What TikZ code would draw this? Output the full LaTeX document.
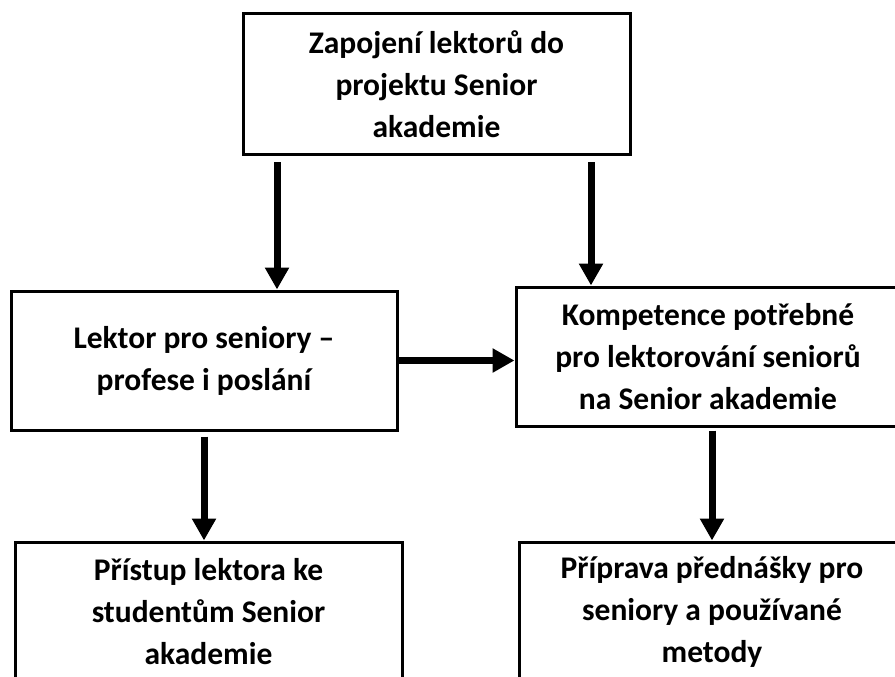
\documentclass[tikz,border=0pt]{standalone}
\usepackage{fontspec}
\setmainfont{Carlito}
\usepackage{tikz}
\usetikzlibrary{arrows.meta}

\begin{document}
\begin{tikzpicture}[x=1pt, y=-1pt,
    box/.style={draw, line width=3pt, align=center, inner sep=0pt,
      font=\fontsize{31.5}{42}\selectfont\bfseries},
    flow/.style={line width=7pt, -{Triangle[width=23pt,length=22pt]}}]
  \useasboundingbox (0,0) rectangle (895,677);
  \clip (0,0) rectangle (895,677);
  % boxes
  \node[box, minimum width=387, minimum height=140] (zapojeni) at (436.5,84)
    {Zapojení lektorů do\\projektu Senior\\akademie};
  \node[box, minimum width=386, minimum height=139] (lektor) at (204,360.5)
    {Lektor pro seniory --\\profese i poslání};
  \node[box, minimum width=384, minimum height=139] (kompetence) at (708,356.5)
    {Kompetence potřebné\\pro lektorování seniorů\\na Senior akademie};
  \node[box, minimum width=387, minimum height=140] (pristup) at (208.5,612)
    {Přístup lektora ke\\studentům Senior\\akademie};
  \node[box, minimum width=386, minimum height=140] (priprava) at (712,612)
    {Příprava přednášky pro\\seniory a používané\\metody};
  % arrows
  \coordinate (zl) at (277,162);
  \coordinate (zr) at (591,162);
  \draw[flow] (zl) -- (zl |- lektor.north);
  \draw[flow] (zr) -- (zr |- kompetence.north);
  \draw[flow] (lektor.east) -- (lektor.east -| kompetence.west);
  \draw[flow, shorten <=5pt] (lektor.south) -- (lektor.south |- pristup.north);
  \draw[flow, shorten <=3pt] (priprava.north |- kompetence.south) -- (priprava.north);
\end{tikzpicture}
\end{document}
